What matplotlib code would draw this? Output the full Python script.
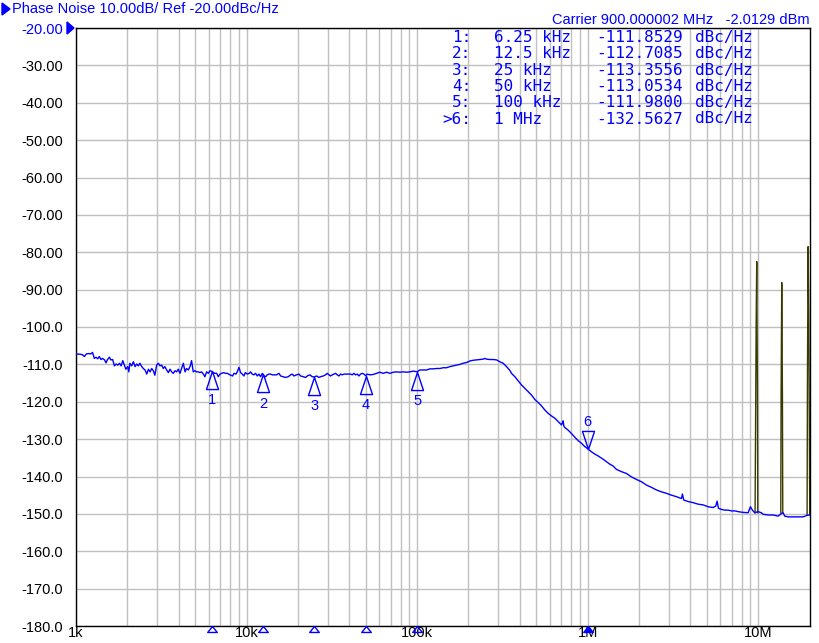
import numpy as np
import matplotlib
matplotlib.use('Agg')
import matplotlib.pyplot as plt
from matplotlib.path import Path
from matplotlib.patches import Polygon

# phase noise trace (blue), offset in kHz / level in dBc/Hz
freq_khz = [1.00, 1.06, 1.09, 1.12, 1.15, 1.19, 1.22, 1.25, 1.28, 1.31, 1.34, 1.37, 1.40, 1.43,
            1.47, 1.50, 1.53, 1.57, 1.60, 1.64, 1.68, 1.72, 1.76, 1.80, 1.84, 1.88, 1.92, 1.96,
            2.01, 2.04, 2.07, 2.12, 2.17, 2.22, 2.27, 2.32, 2.37, 2.43, 2.48, 2.54, 2.60, 2.66,
            2.72, 2.78, 2.84, 2.90, 2.97, 3.04, 3.11, 3.18, 3.25, 3.32, 3.40, 3.48, 3.56, 3.64,
            3.72, 3.81, 3.89, 3.98, 4.07, 4.16, 4.26, 4.36, 4.45, 4.56, 4.66, 4.76, 4.87, 4.98,
            5.10, 5.21, 5.33, 5.45, 5.58, 5.70, 5.83, 5.97, 6.10, 6.25, 6.38, 6.52, 6.68, 6.83,
            6.99, 7.15, 7.32, 7.57,
            7.71, 7.99, 8.29, 8.44, 8.67, 8.82, 9.03, 9.23, 9.44, 9.65, 9.83, 10.10, 10.38, 10.56,
            10.80, 11.05, 11.30, 11.56, 11.82, 12.09, 12.37, 12.5, 12.65, 12.94, 13.23, 13.53,
            13.84, 14.16, 14.47, 15.01, 15.49, 15.84, 16.42, 16.94, 17.56, 18.13, 18.54, 18.96,
            19.66, 20.29, 20.75, 21.51, 22.20, 22.70, 23.53, 24.29, 25.0, 25.75, 26.57, 27.18,
            28.17, 29.08, 29.74, 30.41, 31.10, 31.81, 32.53, 33.27, 34.03, 34.80, 35.59, 36.40,
            37.24, 38.08, 38.95, 39.83, 40.74, 41.67, 42.62, 43.59, 44.58, 45.60, 46.63, 47.69,
            48.78, 50.0, 51.02, 52.89,
            55.3, 57.9, 60.5, 63.3, 66.2, 69.3, 72.5, 75.8, 79.3, 82.9, 86.8, 90.7, 94.9, 100,
            101.5, 103.8, 108.6, 113.6, 118.9, 124.3, 130.0, 136.0, 142.3, 148.8, 155.7, 162.8,
            170.3, 178.2, 186.4, 194.9, 203.9, 213.3, 223.1, 233.4, 244.1, 249.7, 255.4, 267.1,
            279.4, 292.3, 305.7, 319.8, 334.5, 349.9,
            357.9, 374.4, 391.5, 409.5, 428.3, 448.0, 468.8, 490.3, 512.9, 536.4, 561.1, 586.9,
            614.1, 642.2, 671.8, 702.8, 712.3, 718.7, 725.3, 735.1, 769.0, 804.3, 841.4, 880.0,
            920.4, 963.0, 1000, 1054, 1102, 1153, 1206, 1234,
            1349, 1411, 1476, 1579, 1690, 1807, 1934, 2069, 2213, 2367, 2533, 2710, 2900, 3102,
            3319, 3550, 3597, 3663, 3885, 4156, 4446, 4756, 5088, 5443, 5642, 5744, 5848, 6089,
            6370, 6662, 6970, 7290, 7625, 8156, 8728, 9009, 9256, 9550, 9990, 10450, 10690,
            11440, 12230, 13090, 13690, 14000, 14320, 14970, 16020, 17140, 18340, 19360, 19890]
level_dbc = [-107.2, -107.3, -107.4, -107.9, -107.2, -107.1, -107.2, -106.8, -108.4, -108.1, -108.5,
             -107.9, -108.7, -108.4, -108.8, -109.6, -108.7, -108.1, -108.8, -108.7, -110.4, -109.9,
             -110.2, -109.7, -110.4, -109.0, -110.2, -111.3, -110.6, -112.0, -109.7, -110.4, -109.3,
             -110.6, -109.9, -110.4, -109.7, -110.6, -111.1, -111.5, -112.6, -111.3, -112.0, -111.1,
             -111.7, -112.9, -110.2, -109.7, -110.4, -110.2, -111.1, -110.6, -111.5, -112.2, -111.3,
             -112.0, -112.4, -111.7, -112.0, -111.3, -112.4, -111.1, -109.7, -112.0, -111.1, -111.5,
             -110.6, -109.0, -112.0, -111.7, -112.0, -112.0, -112.2, -112.0, -112.6, -113.3, -112.0,
             -112.4, -111.7, -111.85, -112.2, -112.4, -112.4, -113.3, -112.6, -112.4, -112.2, -112.4,
             -112.4, -112.8, -113.1, -112.4, -112.6, -112.0, -110.8, -112.2, -112.6, -113.1, -112.2,
             -112.6, -112.4, -112.0, -112.6, -112.8, -112.4, -113.1, -112.6, -113.3, -112.4, -112.71,
             -113.1, -113.3, -112.8, -112.6, -112.6, -112.8, -112.8, -112.8, -112.4, -113.1, -113.3,
             -113.5, -113.3, -112.8, -112.6, -113.1, -112.8, -112.6, -113.1, -113.3, -113.5, -113.1,
             -112.8, -113.3, -113.36, -113.1, -113.5, -113.3, -113.1, -112.8, -112.4, -112.8, -113.1,
             -112.8, -112.6, -112.4, -112.8, -113.1, -112.6, -112.8, -112.6, -112.6, -112.6, -112.6,
             -112.6, -112.8, -112.4, -112.8, -112.6, -113.1, -112.6, -112.4, -112.6, -113.05, -112.6,
             -112.8,
             -112.7, -112.4, -112.1, -112.4, -112.1, -112.4, -112.1, -112.0, -112.1, -112.0, -112.1,
             -112.0, -111.8, -111.98, -111.8, -111.5, -111.5, -111.5, -111.2, -111.2, -111.1, -111.1,
             -110.9, -110.9, -110.6, -110.4, -110.2, -110.0, -109.7, -109.5, -109.1, -108.9, -108.8,
             -108.7, -108.6, -108.4, -108.6, -108.7, -108.7, -108.8, -109.3, -109.7, -110.6, -111.6,
             -112.4, -113.3, -114.4, -115.5, -116.4, -117.3, -118.2, -119.4, -120.2, -121.1, -122.2,
             -123.1, -123.8, -124.4, -125.3, -126.2, -125.6, -125.1, -126.5, -126.9, -127.6, -128.5,
             -129.5, -130.4, -131.1, -132.0, -132.56, -133.4, -134.0, -134.5, -135.1, -135.4,
             -136.7, -137.2, -138.1, -138.7, -139.2, -140.1, -140.8, -141.4, -142.3, -142.9, -143.6,
             -144.1, -144.5, -145.0, -145.4, -145.9, -144.7, -146.3, -146.7, -147.0, -147.4, -147.6,
             -148.1, -148.3, -147.9, -146.6, -148.5, -148.8, -149.0, -149.0, -149.2, -149.2, -149.4,
             -149.6, -149.7, -148.1, -149.0, -149.7, -149.4, -149.7, -150.1, -150.3, -150.3, -150.6,
             -149.9, -149.7, -150.6, -150.8, -150.8, -150.8, -150.8, -150.4, -150.3]

# spurs on the second trace (olive)
spur_khz = [[9590, 9640, 9730, 9810, 9900, 9950],
            [13570, 13630, 13750, 13880, 13940],
            [19360, 19450, 19620, 19800, 19980, 20070]]
spur_dbc = [[-149.7, -132.9, -99.5, -82.5, -116.2, -149.7],
            [-149.7, -118.6, -88.1, -119.1, -149.7],
            [-150.3, -114.5, -78.5, -96.8, -132.5, -150.3]]

# markers
mk_num = ['1', '2', '3', '4', '5', '6']
mk_khz = [6.25, 12.5, 25, 50, 100, 1000]
mk_dbc = [-111.8529, -112.7085, -113.3556, -113.0534, -111.9800, -132.5627]
mk_freq_txt = ['6.25 kHz', '12.5 kHz', '25 kHz', '50 kHz', '100 kHz', '1 MHz']
mk_tag = ['1:', '2:', '3:', '4:', '5:', '>6:']

yticks = [-20, -30, -40, -50, -60, -70, -80, -90, -100, -110, -120, -130, -140, -150, -160, -170, -180]
ytick_txt = ['-20.00', '-30.00', '-40.00', '-50.00', '-60.00', '-70.00', '-80.00', '-90.00',
             '-100.0', '-110.0', '-120.0', '-130.0', '-140.0', '-150.0', '-160.0', '-170.0', '-180.0']
xticks = [1e3, 1e4, 1e5, 1e6, 1e7]
xtick_txt = ['1k', '10k', '100k', '1M', '10M']

W, H = 819, 643
BLUE = '#0000ff'
GRID = '#c0c0c0'
OLIVE = '#3a3a00'
plt.rcParams['font.family'] = ['Liberation Sans', 'DejaVu Sans']


def px(x, y):
    return x / W, 1 - y / H


fig = plt.figure(figsize=(W / 100, H / 100), dpi=100)
ax = fig.add_axes([76 / W, 1 - 626 / H, 733.5 / W, 598 / H])
ax.set_xscale('log')
ax.set_xlim(1e3, 2e7)
ax.set_ylim(-180, -20)

# grid
minor = [m * 10 ** d for d in range(3, 8) for m in range(1, 10) if m * 10 ** d < 2e7]
for f in minor:
    ax.axvline(f, color=GRID, lw=1, zorder=0)
for v in yticks:
    ax.axhline(v, color=GRID, lw=1, zorder=0)

for xs, ys in zip(spur_khz, spur_dbc):
    ax.plot(np.array(xs) * 1e3, ys, color=OLIVE, lw=1, zorder=2)
ax.plot(np.array(freq_khz) * 1e3, level_dbc, color=BLUE, lw=1, zorder=3)

# marker symbols
up = Path([(0, 0), (-1 / 3, -1), (1 / 3, -1), (0, 0)], [1, 2, 2, 79])
down = Path([(0, 0), (-1 / 3, 1), (1 / 3, 1), (0, 0)], [1, 2, 2, 79])
small = Path([(0, 0), (-0.8, -1), (0.8, -1), (0, 0)], [1, 2, 2, 79])
for i in range(len(mk_num)):
    f = mk_khz[i] * 1e3
    if mk_num[i] == '6':
        ax.plot(f, mk_dbc[i], marker=down, ms=26, mfc='none', mec=BLUE, mew=1, zorder=4)
        ax.annotate(mk_num[i], (f, mk_dbc[i]), xytext=(0, 19), textcoords='offset points',
                    ha='center', va='center', color=BLUE, fontsize=10.5)
    else:
        ax.plot(f, mk_dbc[i], marker=up, ms=26, mfc='none', mec=BLUE, mew=1, zorder=4)
        ax.annotate(mk_num[i], (f, mk_dbc[i]), xytext=(0, -21), textcoords='offset points',
                    ha='center', va='center', color=BLUE, fontsize=10.5)
    ax.plot(f, 0, marker=small, ms=8.6, mfc=BLUE if mk_num[i] == '6' else 'none', mec=BLUE,
            mew=1, transform=ax.get_xaxis_transform(), clip_on=False, zorder=5)

for s in ax.spines.values():
    s.set_color('black')
    s.set_linewidth(1)
ax.set_yticks(yticks)
ax.set_yticklabels(ytick_txt, fontsize=10.5)
ax.get_yticklabels()[0].set_color(BLUE)
ax.set_xticks(xticks)
ax.set_xticklabels(xtick_txt, fontsize=10.5)
ax.minorticks_off()
ax.tick_params(axis='y', length=0, pad=9.3)
ax.tick_params(axis='x', length=0, pad=0)

# header
fig.add_artist(Polygon([px(2, 3), px(10, 9), px(2, 15)], closed=True, color=BLUE,
                       transform=fig.transFigure))
fig.add_artist(Polygon([px(67, 22), px(74, 28), px(67, 34)], closed=True, color=BLUE,
                       transform=fig.transFigure))
fig.text(*px(12, 9), 'Phase Noise 10.00dB/ Ref -20.00dBc/Hz', color=BLUE, fontsize=10.5,
         ha='left', va='center')
fig.text(*px(810, 20), 'Carrier 900.000002 MHz   -2.0129 dBm', color=BLUE, fontsize=10.5,
         ha='right', va='center')

# marker table
mono = 'DejaVu Sans Mono'
for i in range(len(mk_num)):
    y = 37.5 + i * 16.3
    fig.text(*px(471, y), mk_tag[i], color=BLUE, fontsize=11.5, family=mono, ha='right', va='center')
    fig.text(*px(494, y), mk_freq_txt[i], color=BLUE, fontsize=11.5, family=mono, ha='left', va='center')
    fig.text(*px(596, y), '%.4f' % mk_dbc[i], color=BLUE, fontsize=11.5, family=mono, ha='left', va='center')
    fig.text(*px(695, y), 'dBc/Hz', color=BLUE, fontsize=11.5, family=mono, ha='left', va='center')

fig.savefig('out.png', dpi=100)
